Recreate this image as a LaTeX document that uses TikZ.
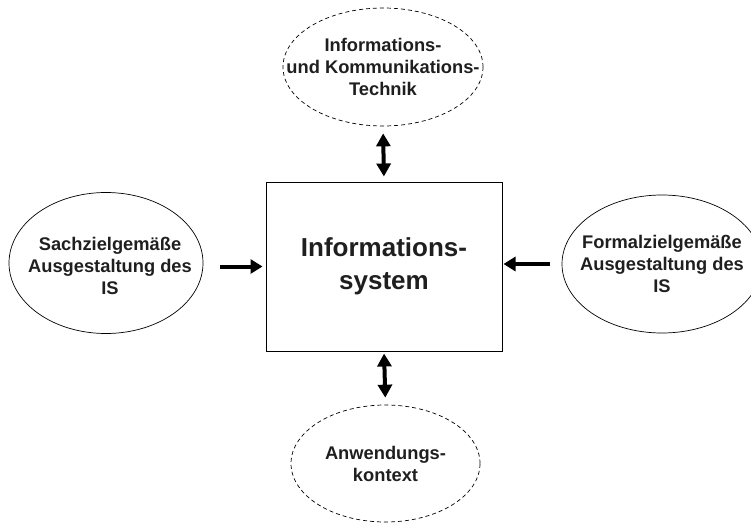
\documentclass[tikz,border=0pt]{standalone}
\usepackage{fontspec}
\setmainfont{Liberation Sans}
\usetikzlibrary{shapes.geometric,arrows.meta}
\begin{document}
\begin{tikzpicture}[x=1pt,y=-1pt,
        feld/.style={draw,ellipse,line width=0.7pt,inner sep=0pt},
        umfeld/.style={feld,dash pattern=on 4pt off 3pt},
        schrift/.style={align=center,text=black!88,font=\fontsize{18.3}{22}\selectfont\bfseries},
        pfeil/.style={line width=4pt,-{Triangle[length=12pt,width=14pt]}},
        doppelpfeil/.style={line width=4pt,{Triangle[length=13pt,width=14pt]}-{Triangle[length=13pt,width=14pt]}}]
            \useasboundingbox (0,0) rectangle (751,524);
            \node[draw,line width=1pt,minimum width=236,minimum height=169,align=center,text=black!88,
                  font=\fontsize{26}{33}\selectfont\bfseries] (is) at (384,266.5) {Informations-\\system};
            \node[umfeld,minimum width=200,minimum height=118] (technik) at (383,67) {};
            \node[schrift] (technik-text) at (technik) {Informations-\\und Kommunikations-\\Technik};
            \node[umfeld,minimum width=189,minimum height=117] (kontext) at (385.5,463.5) {};
            \node[schrift] (kontext-text) at (kontext) {Anwendungs-\\kontext};
            \node[feld,minimum width=194,minimum height=141] (sach) at (106,263) {};
            \node[schrift] (sach-text) at (110,266) {Sachzielgemäße\\Ausgestaltung des\\IS};
            \node[feld,minimum width=200,minimum height=138] (formal) at (662,264) {};
            \node[schrift] (formal-text) at (formal) {Formalzielgemäße\\Ausgestaltung des\\IS};
            \draw[doppelpfeil,shorten <=7pt,shorten >=5pt] (technik.south) -- (is.north);
            \draw[doppelpfeil,shorten <=2pt,shorten >=7pt] (is.south) -- (kontext.north);
            \draw[pfeil,shorten <=17pt,shorten >=3pt] (sach.east |- is.west) -- (is.west);
            \draw[pfeil,shorten <=12pt,shorten >=1pt] (formal.west) -- (is.east |- formal.west);
        \end{tikzpicture}
\end{document}
